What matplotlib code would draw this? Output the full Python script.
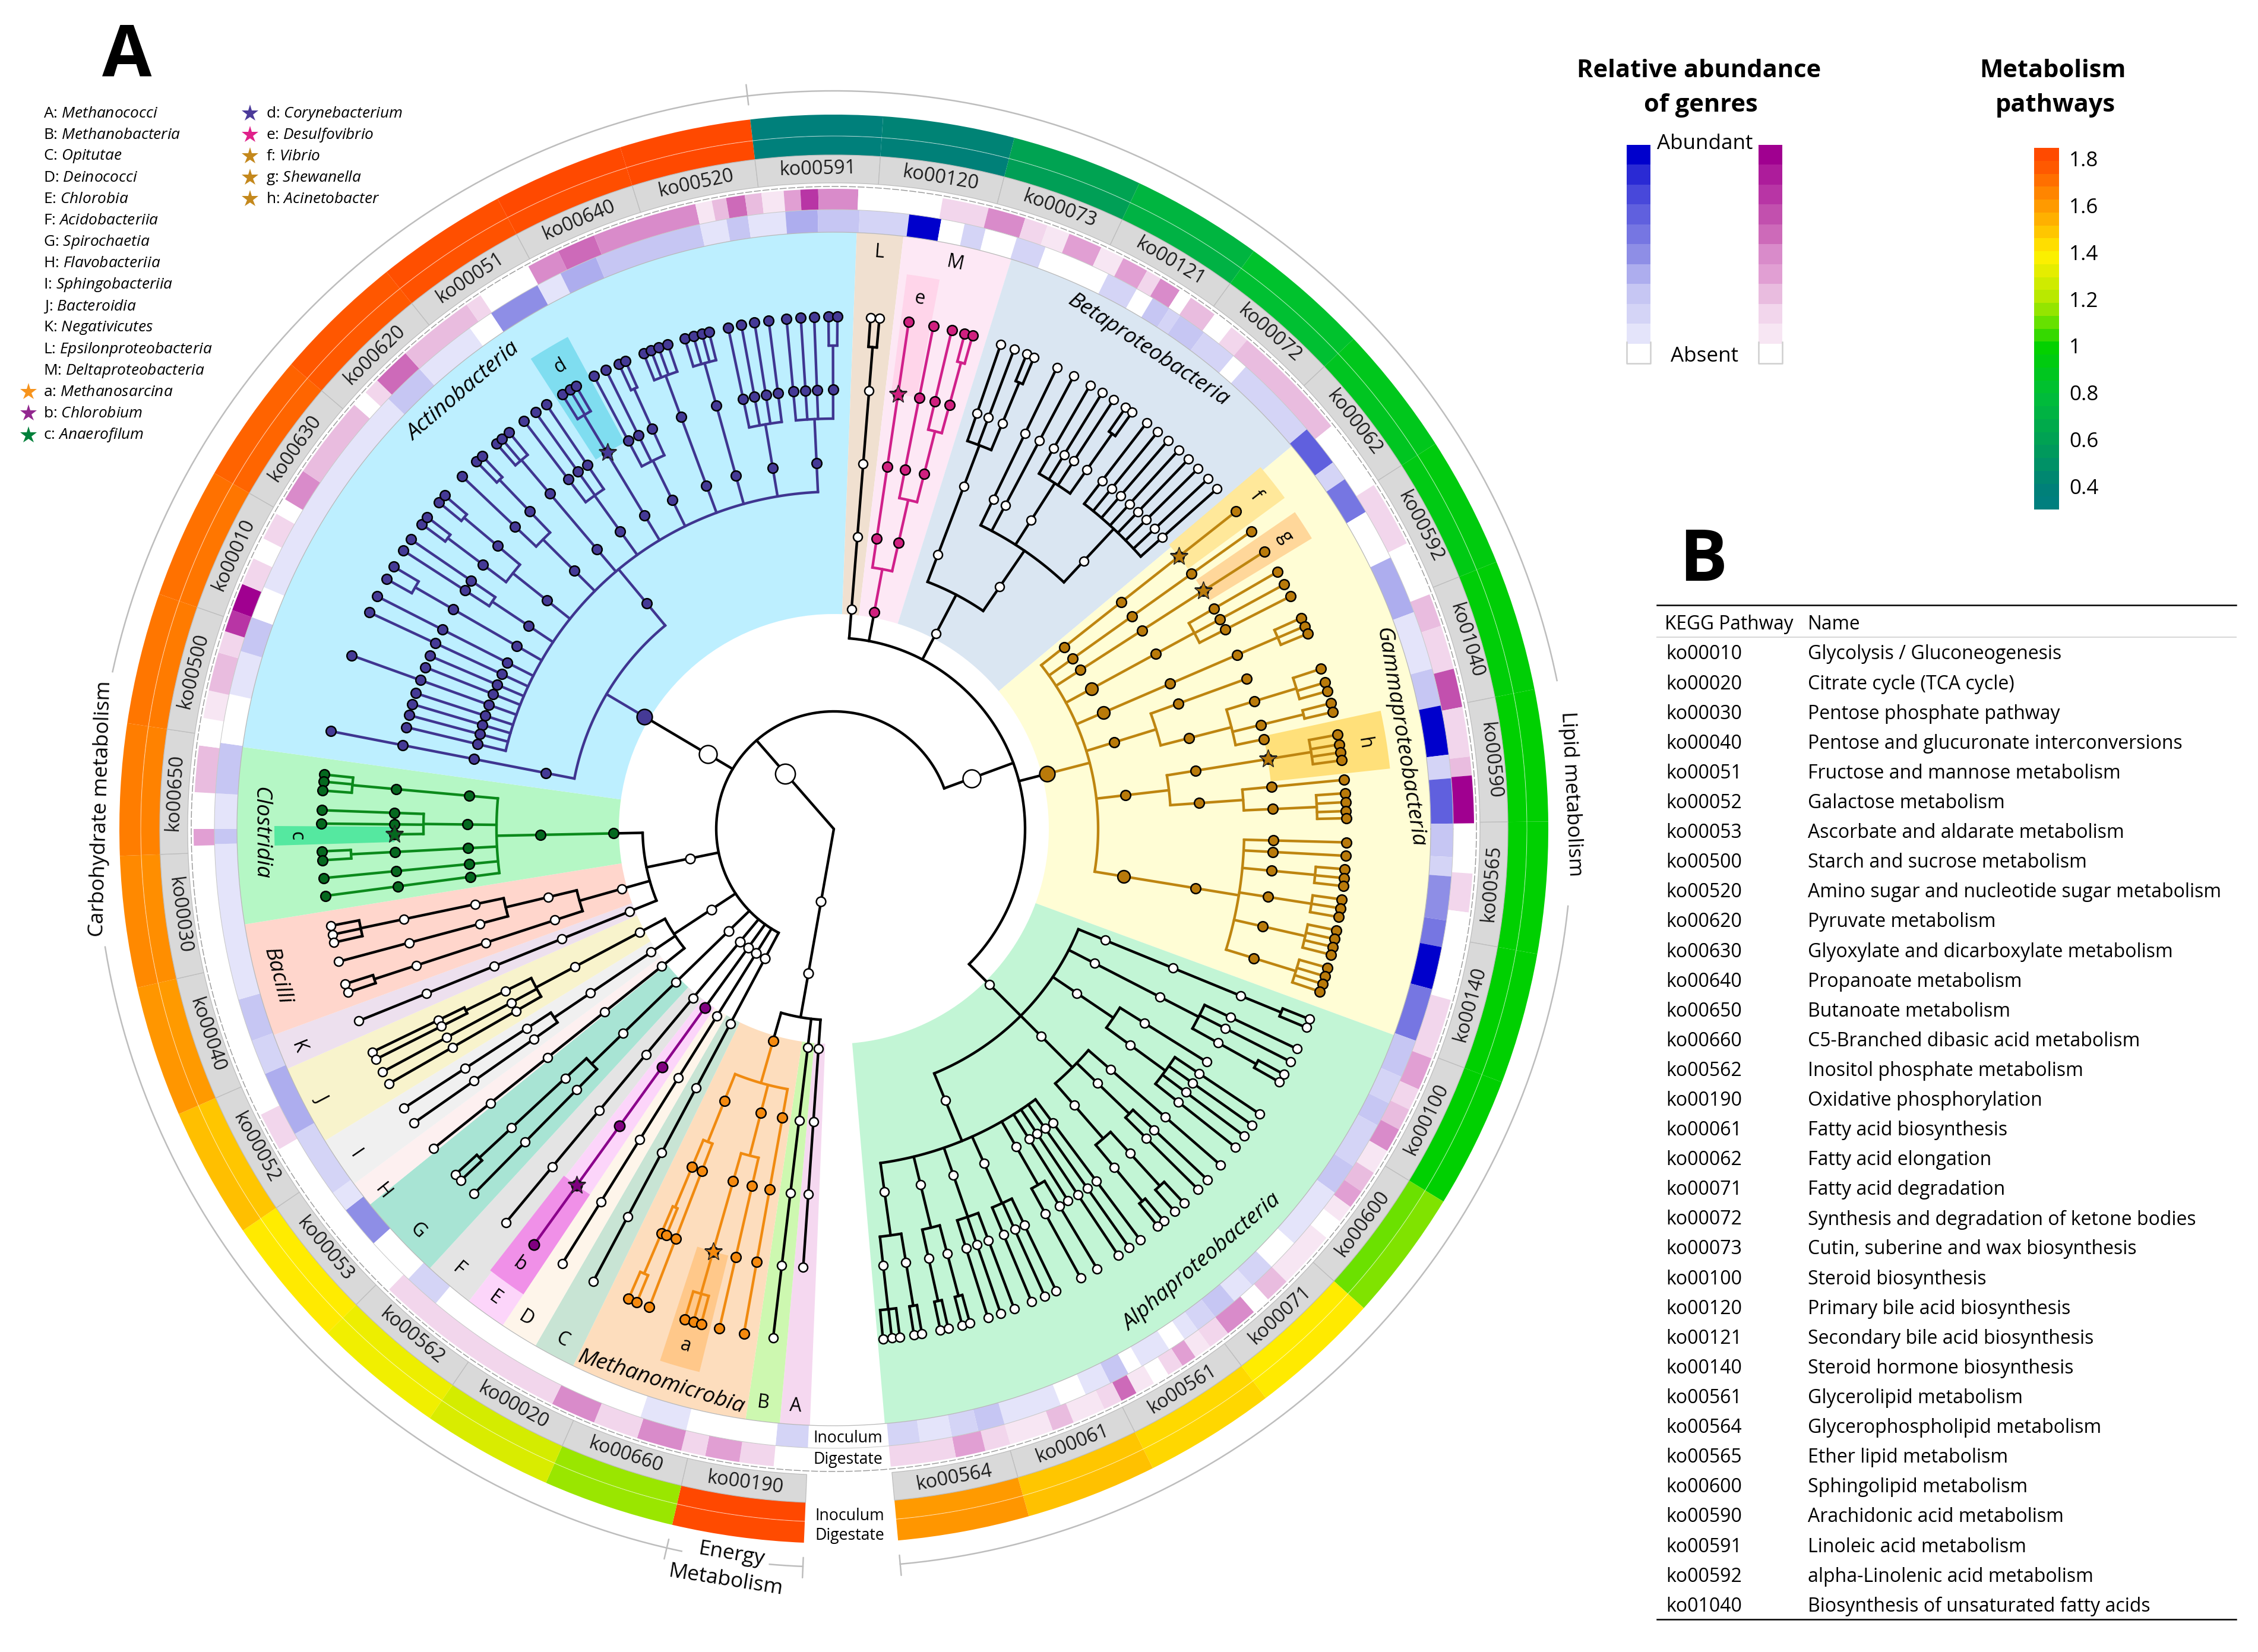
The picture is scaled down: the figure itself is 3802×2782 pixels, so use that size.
import numpy as np
import matplotlib
matplotlib.use("Agg")
import matplotlib.pyplot as plt
from matplotlib.colors import LinearSegmentedColormap, ListedColormap

plt.rcParams['font.family'] = ['Open Sans', 'DejaVu Sans']
plt.rcParams['mathtext.fontset'] = 'custom'
plt.rcParams['mathtext.rm'] = 'Open Sans'
plt.rcParams['mathtext.it'] = 'Open Sans:italic'
plt.rcParams['mathtext.bf'] = 'Open Sans:bold'

W, H = 3803, 2782
CX, CY = 1404, 1396
HALF = 1300

# ---------------- pathways ----------------
pathways = ["ko00190", "ko00660", "ko00020", "ko00562", "ko00053", "ko00052", "ko00040", "ko00030",
            "ko00650", "ko00500", "ko00010", "ko00630", "ko00620", "ko00051", "ko00640", "ko00520",
            "ko00591", "ko00120", "ko00073", "ko00121", "ko00072", "ko00062", "ko00592", "ko01040",
            "ko00590", "ko00565", "ko00140", "ko00100", "ko00600", "ko00071", "ko00561", "ko00061",
            "ko00564"]
path_inoculum = [1.84, 1.17, 1.29, 1.35, 1.4, 1.5, 1.61, 1.64, 1.67, 1.69, 1.7, 1.74, 1.77, 1.79, 1.81, 1.83,
                 0.37, 0.4, 0.6, 0.72, 0.82, 0.88, 0.93, 0.97, 1.0, 1.0, 1.0, 1.0, 1.12, 1.4, 1.45, 1.5, 1.61]
path_digestate = [1.82, 1.17, 1.3, 1.36, 1.41, 1.52, 1.62, 1.65, 1.68, 1.7, 1.71, 1.75, 1.78, 1.8, 1.83, 1.83,
                  0.37, 0.42, 0.62, 0.74, 0.84, 0.9, 0.95, 0.98, 1.0, 1.0, 1.0, 1.0, 1.14, 1.41, 1.46, 1.51, 1.62]
PATH_START = 267.6
PATH_STEP = 10.68

path_cmap = LinearSegmentedColormap.from_list("path", [
    (0.0, '#007F80'), (0.058, '#008078'), (0.187, '#00A055'), (0.316, '#00BE38'), (0.445, '#00D000'),
    (0.51, '#5CE000'), (0.574, '#B0E800'), (0.70, '#FFF000'), (0.83, '#FFA000'), (0.96, '#FF5000'), (1.0, '#FF4500')])
PATH_MIN, PATH_MAX = 0.31, 1.86

# ---------------- genus heat rings (edges run clockwise, levels 0-10) ----------------
inoc_edges = [267.6, 264.6, 256.2, 251.8, 230, 226.6, 222, 218, 216, 209.5, 203.3, 200, 196, 181.4, 180, 176.7,
              172, 167.4, 163.3, 160, 157, 136, 132, 126, 123.6, 118.6, 116.2, 112.6, 102.5, 100, 98, 94.5, 91.5,
              87.6, 83, 80, 77.8, 75.8, 72.8, 70, 63.7, 60.7, 59, 57.2, 56, 53.3, 49.8, 48.3, 40.2, 36.3, 34.4,
              30.8, 26, 20.5, 15, 11.5, 6.9, 4.7, 0.5, -2.6, -4.4, -8.5, -11, -15, -20, -23.6, -26.3, -28.6, -33,
              -36, -42, -45, -47.5, -49.7, -52, -54, -55.5, -57.2, -60.2, -61.6, -63.5, -66, -68.5, -74, -76.5,
              -79, -82, -84.9]
inoc_levels = [2, 0, 1, 0, 2, 0, 5, 1, 2, 4, 2, 3, 1, 3, 1, 3,
               0, 1, 3, 0, 1, 3, 1, 0, 5, 1, 4, 3, 1, 3, 1, 4, 3,
               2, 10, 0, 2, 0, 2, 0, 2, 0, 3, 2, 3, 2, 0, 2, 7, 2, 6,
               0, 4, 1, 3, 10, 2, 7, 3, 2, 5, 6, 10, 6, 3, 2, 3, 2, 3,
               1, 0, 2, 1, 3, 2, 1, 0, 1, 0, 3, 1, 0, 1, 3, 2,
               1, 2]
dige_edges = [267.6, 264.6, 261.5, 258.4, 256.2, 252.1, 248, 243.9, 226, 210, 206.5, 181.5, 180, 176.7, 172.5, 170,
              167.5, 164, 162, 160, 157.5, 155, 153, 150.5, 149, 146, 138.5, 137, 135.5, 132, 125, 123.5, 118.5,
              115.5, 112, 102.5, 101, 99.7, 98, 96.5, 94.5, 93, 91.4, 87.8, 80.2, 76, 72.6, 70.5, 68.4, 65.3, 63.1,
              60.7, 59.3, 57.3, 56.1, 53.5, 51.6, 49.8, 39, 32.5, 26.5, 21.5, 18.5, 14.5, 11, 6.5, 4.8, 0.5, -4,
              -7.5, -15.5, -21, -24, -26, -28, -30.2, -32.5, -34.5, -36.2, -37.8, -39.7, -45, -47.3, -49, -52, -54,
              -55.6, -57, -58.5, -60, -61.8, -63.3, -65, -68, -70, -74, -76.3, -79, -84.9]
dige_levels = [0, 2, 4, 2, 5, 2, 5, 2, 0, 2, 0, 4, 0, 3, 0, 1,
               3, 2, 8, 10, 2, 0, 2, 0, 5, 3, 0, 2, 6, 3, 2, 0,
               5, 6, 5, 1, 3, 6, 3, 1, 4, 8, 5, 0, 2, 5, 2, 1, 4, 1,
               4, 2, 5, 0, 3, 0, 2, 3, 0, 2, 0, 3, 2, 7, 2, 3, 10, 0,
               2, 0, 2, 4, 2, 3, 5, 1, 3, 4, 1, 0, 1, 3, 0, 5, 2,
               1, 4, 2, 0, 1, 6, 2, 1, 3, 1, 2, 4, 2]
blue_colors = ['#FFFFFF', '#E4E4FA', '#D4D4F6', '#C6C6F3', '#ADADEE', '#8E8EE6', '#7676E2', '#6060DE', '#4848DA', '#2A2AD4', '#0000CC']
pink_colors = ['#FFFFFF', '#F7E6F3', '#F2D6EC', '#E9BCDF', '#E19FD3', '#D98BCA', '#CD6AB9', '#C250AE', '#B835A5', '#AD1C9B', '#A00090']

# ---------------- clade sectors ----------------
sector_edges = [267.7, 264.8, 261.5, 244.1, 240, 236.3, 232.3, 227.4, 219, 216.5, 211.5, 203.7, 200.2, 189.2, 172.1,
                87.8, 83.3, 72.7, 39.9, -20.2, -85.1]
sector_colors = ['#F5D8F0', '#CDF8B0', '#FDDDBD', '#C8E4D4', '#FEF5EA', '#FCD5FA', '#E4E4E4', '#A8E4D4', '#FDF0F0',
                 '#F0F0F0', '#F8F3CC', '#EDE0EE', '#FFD6CC', '#B5F7C5', '#BDEFFF', '#F0E0D0', '#FDE8F5', '#DAE6F2',
                 '#FFFDD5', '#C2F5D5']
highlight_theta = [180.7, 120.6, 80.8, 38.3, 32.9, 9.2, 254.0, 234.2]
highlight_half = [1.0, 2.2, 1.7, 2.0, 1.6, 3.0, 2.1, 2.1]
highlight_colors = ['#55E8A0', '#7FDDF0', '#FFD5EA', '#FFE89A', '#FFD79A', '#FFE07A', '#FFC88A', '#F090E8']
highlight_names = ['c', 'd', 'e', 'f', 'g', 'h', 'a', 'b']

# ---------------- phylogeny: nested lists of tip angles ----------------
class Short(float):
    pass

actino = [169, [[95.3, 93.7, 92.2, [90.6, 89.6]], [101.9, 100.4, 98.9, 97.3], [[106.9, 105.9, 104.9, 104.1]],
                [[111.8, 110.9, 110, 108.9]], [117.9, 116.4, [114.8, 114]], [[122, 121, 120.2]],
                [124.1, 125.6, 127.2], [[131.2, 130.4, 129.3]], [136.5, [134.2, 133.3]],
                [[140.4, 139.4], [143.5, 142.5]], [147.1, 145.6], [[150.8, 149.2]], 153, 155,
                Short(156.8), Short(158.4), 160.2, Short(162), Short(163.5), Short(165), Short(166.6)]]
clostridia = [[[[173.9, 174.7, 175.7]], [177.9, 179.4, Short(180.7)], [[182.5, 183.5]], 185.5, 187.5]]
bacilli = [[[[190.9, 191.9, 192.8]], 195], [[[197.6, 198.6]]]]
gamma = [38.3, 35.5, 32.8, [[30.1, 28.5, 27]], [[[24.3, 23.3, 22.4]]],
         [Short(20), [[18.2, 16.6, 15.6], [14.2, 13.2], Short(11.8)]],
         [[[10.6, 9.5, 8.6, 7.7]], [5.5, [4, 3, 2, 1.2]]],
         [[-1.5, -3, [-4.5, -5.5, -6.4], [-7.9, -8.9, -9.9], [-11.4, -12.4, -13.3, -14.2], [-15.7, -16.7, -17.6, -18.5]]]]
beta = [[[71, 69.4, [67.9, 67]]],
        [64.2, 62.1, [60, 58.4, 56.9, [55.3, 54.4]], [52.4, 50.8, 49.3, 47.7, 46.2, 44.7, 43.1, 41.6]]]
alpha = [[[[-21.8, -22.8]]], [[-25.4, -27, [-28.6, -29.6]]], [Short(-32), [-33.8, -35.3, -36.8, -38.4]],
         [-41, [-43.2, -44.7], [[-46.9, -48.3], [-49.9, -50.8]]],
         [[[-84.5, -83.5, -82.6], [-81, -80.1]], [[-78, -77.1], [-75.5, -74.6]], [-72.5, -71, -69.4],
          [-67.3, -65.7, -64.3], [-61.2, -59.1], Short(-57.8), -56.3, -54.8, -53.3]]
delta = [81.6, [78.8, [76.7, [75.2, 74.3]]]]
epsilon = [[[[85.9, 84.9]]]]
methano = [[[[246.4, 247.4], Short(247.6)], 248.9], [[[253.1, 254.1, 255]], 257.1], 259.9]
phylum_bacteria = [[alpha, gamma, beta, delta, epsilon], [actino], [clostridia, bacilli, 202],
                   [[[[205.8, 206.7], 208.3, 209.8]], [[213, 215]], 218.6],
                   [[[[[222.4, 223.3]], 225.4]]], [230.2], [234.2], [238], [242]]
phylum_archaea = [[methano, 263.2, Short(266)]]

clade_line = {id(actino): '#3F3590', id(clostridia): '#0B8A1C', id(gamma): '#BE8510', id(delta): '#D0208A',
              id(methano): '#F08A10'}
clade_fill = {id(actino): '#453A96', id(clostridia): '#05691F', id(gamma): '#B97A0A', id(delta): '#D0207F',
              id(methano): '#F58A0F'}
star_theta = [180.7, 121, 81.6, 38.3, 32.8, 9.15, 254.05, 234.2]
star_colors = ['#05691F', '#453A96', '#D0207F', '#B97A0A', '#B97A0A', '#B97A0A', '#F58A0F', '#800080']

# ---------------- text data ----------------
legend_classes = ["A: $\\mathit{Methanococci}$", "B: $\\mathit{Methanobacteria}$", "C: $\\mathit{Opitutae}$",
                  "D: $\\mathit{Deinococci}$", "E: $\\mathit{Chlorobia}$", "F: $\\mathit{Acidobacteriia}$",
                  "G: $\\mathit{Spirochaetia}$", "H: $\\mathit{Flavobacteriia}$", "I: $\\mathit{Sphingobacteriia}$",
                  "J: $\\mathit{Bacteroidia}$", "K: $\\mathit{Negativicutes}$", "L: $\\mathit{Epsilonproteobacteria}$",
                  "M: $\\mathit{Deltaproteobacteria}$", "a: $\\mathit{Methanosarcina}$", "b: $\\mathit{Chlorobium}$",
                  "c: $\\mathit{Anaerofilum}$"]
legend_genera = ["d: $\\mathit{Corynebacterium}$", "e: $\\mathit{Desulfovibrio}$", "f: $\\mathit{Vibrio}$",
                 "g: $\\mathit{Shewanella}$", "h: $\\mathit{Acinetobacter}$"]
star_a_c = ['#F7941D', '#92278F', '#00803A']
star_d_h = ['#4B3A9A', '#E0218A', '#C4881C', '#C4881C', '#C4881C']
table_ko = ["ko00010", "ko00020", "ko00030", "ko00040", "ko00051", "ko00052", "ko00053", "ko00500", "ko00520",
            "ko00620", "ko00630", "ko00640", "ko00650", "ko00660", "ko00562", "ko00190", "ko00061", "ko00062",
            "ko00071", "ko00072", "ko00073", "ko00100", "ko00120", "ko00121", "ko00140", "ko00561", "ko00564",
            "ko00565", "ko00600", "ko00590", "ko00591", "ko00592", "ko01040"]
table_names = ["Glycolysis / Gluconeogenesis", "Citrate cycle (TCA cycle)", "Pentose phosphate pathway",
               "Pentose and glucuronate interconversions", "Fructose and mannose metabolism", "Galactose metabolism",
               "Ascorbate and aldarate metabolism", "Starch and sucrose metabolism",
               "Amino sugar and nucleotide sugar metabolism", "Pyruvate metabolism",
               "Glyoxylate and dicarboxylate metabolism", "Propanoate metabolism", "Butanoate metabolism",
               "C5-Branched dibasic acid metabolism", "Inositol phosphate metabolism", "Oxidative phosphorylation",
               "Fatty acid biosynthesis", "Fatty acid elongation", "Fatty acid degradation",
               "Synthesis and degradation of ketone bodies", "Cutin, suberine and wax biosynthesis",
               "Steroid biosynthesis", "Primary bile acid biosynthesis", "Secondary bile acid biosynthesis",
               "Steroid hormone biosynthesis", "Glycerolipid metabolism", "Glycerophospholipid metabolism",
               "Ether lipid metabolism", "Sphingolipid metabolism", "Arachidonic acid metabolism",
               "Linoleic acid metabolism", "alpha-Linolenic acid metabolism", "Biosynthesis of unsaturated fatty acids"]
clade_names = ['Actinobacteria', 'Betaproteobacteria', 'Gammaproteobacteria', 'Alphaproteobacteria', 'Clostridia',
               'Bacilli', 'Methanomicrobia']
clade_name_theta = [130.3, 56.7, 9.2, -49.7, 180.4, 194.8, 252.7]
letters = ['A', 'B', 'C', 'D', 'E', 'F', 'G', 'H', 'I', 'J', 'K', 'L', 'M']
letter_theta = [266.2, 263, 242, 237.9, 234.2, 229.6, 224, 218.8, 214.2, 207.7, 202.2, 85.5, 77.9]
colorbar_ticks = [1.8, 1.6, 1.4, 1.2, 1, 0.8, 0.6, 0.4]

LW = 1.05


def tangent_rotation(theta):
    t = theta % 360
    return t - 90 if t < 180 else t + 90


fig = plt.figure(figsize=(W / 300, H / 300), dpi=300)
ax = fig.add_axes([(CX - HALF) / W, 1 - (CY + HALF) / H, 2 * HALF / W, 2 * HALF / H], projection='polar')


def ring(start_edges, levels, palette, r0, r1):
    edges = np.array(start_edges, dtype=float)
    mids = (edges[:-1] + edges[1:]) / 2
    ax.bar(np.radians(mids), r1 - r0, width=np.radians(edges[:-1] - edges[1:]), bottom=r0,
           color=[palette[v] for v in levels], linewidth=0, zorder=2)


def arc(t0, t1, r, **kw):
    t = np.radians(np.linspace(t0, t1, max(3, int(abs(t1 - t0) * 2))))
    ax.plot(t, np.full_like(t, r), **kw)


# outer pathway rings
n = len(pathways)
centers = PATH_START - PATH_STEP * (np.arange(n) + 0.5)
w = np.radians(PATH_STEP)
norm = lambda v: (np.array(v) - PATH_MIN) / (PATH_MAX - PATH_MIN)
ax.bar(np.radians(centers), 32, width=w, bottom=1135, color=path_cmap(norm(path_inoculum)), linewidth=0, zorder=2)
ax.bar(np.radians(centers), 36, width=w, bottom=1167, color=path_cmap(norm(path_digestate)), linewidth=0, zorder=2)
ax.bar(np.radians(centers), 47, width=w, bottom=1088, color='#D9D9D9', edgecolor='#BDBDBD', linewidth=0.3, zorder=2)
for c, name in zip(centers, pathways):
    ax.text(np.radians(c), 1111, name, rotation=tangent_rotation(c), rotation_mode='anchor',
            ha='center', va='center', fontsize=7.8, color='#1a1a1a', zorder=5)
arc(PATH_START, PATH_START - PATH_STEP * n, 1167, color='white', lw=0.25, alpha=0.6, zorder=3)

# heat rings
ring(dige_edges, dige_levels, pink_colors, 1043, 1078)
ring(inoc_edges, inoc_levels, blue_colors, 1005, 1043)
arc(0, 360, 1005, color='#B8B8B8', lw=0.3, zorder=3)
arc(0, 360, 1043, color='#C8C8C8', lw=0.25, zorder=3)
arc(0, 360, 1082, color='#9A9A9A', lw=0.35, ls=(0, (8, 2)), zorder=3)

# clade sectors
edges = np.array(sector_edges, dtype=float)
ax.bar(np.radians((edges[:-1] + edges[1:]) / 2), 1005 - 362, width=np.radians(edges[:-1] - edges[1:]), bottom=362,
       color=sector_colors, linewidth=0, zorder=1)
ax.bar(np.radians(highlight_theta), 202, width=np.radians(2 * np.array(highlight_half)), bottom=740,
       color=highlight_colors, linewidth=0, zorder=1.5)

# tree
LEVELS = [371, 494, 617, 740, 863]


def is_tip(node):
    return isinstance(node, (int, float))


def node_theta(node):
    if is_tip(node):
        return float(node)
    kids = [node_theta(k) for k in node]
    return (min(kids) + max(kids)) / 2


def mark(theta, r, fill, size, edge='black', mew=0.6):
    ax.plot([np.radians(theta)], [r], 'o', ms=size, mfc=fill, mec=edge, mew=mew, zorder=8)


def line(theta, r0, r1, color, lw):
    ax.plot(np.radians([theta, theta]), [r0, r1], color=color, lw=lw, solid_capstyle='round', zorder=6)


def draw(node, k, color, fill, big=False):
    t = node_theta(node)
    size = 3.6
    if fill != 'white':
        size = 4.0
        if big and k == 0:
            size = 6.2
        elif big and k == 1 and not is_tip(node) and len(node) == 1:
            size = 5.0
    if is_tip(node):
        end = 3 if isinstance(node, Short) else 4
        line(t, LEVELS[k], LEVELS[end], color, LW)
        for j in range(k, end + 1):
            s = size if j == k else (4.0 if fill != 'white' else 3.6)
            mark(t, LEVELS[j], fill, s)
        return
    mark(t, LEVELS[k], fill, size)
    if len(node) == 1:
        line(t, LEVELS[k], LEVELS[k + 1], color, LW)
    else:
        split = LEVELS[k + 1] - 49
        kids = [node_theta(c) for c in node]
        line(t, LEVELS[k], split, color, LW)
        arc(min(kids), max(kids), split, color=color, lw=LW, zorder=6)
        for kt in kids:
            line(kt, split, LEVELS[k + 1], color, LW)
    for c in node:
        draw(c, k + 1, color, fill, big)


def draw_class(node):
    line_c = clade_line.get(id(node), 'black')
    fill = clade_fill.get(id(node), 'white')
    draw(node, 0, line_c, fill, big=node is actino or node is gamma)


# dark purple for the Chlorobium branch, everything else through the colour tables
phylum_thetas = []
for classes in phylum_bacteria + phylum_archaea:
    ths = [node_theta(c) for c in classes]
    t = (min(ths) + max(ths)) / 2
    phylum_thetas.append(t)
    if len(classes) == 1:
        line(t, 247, 371, 'black', LW)
    else:
        line(t, 247, 322, 'black', LW)
        arc(min(ths), max(ths), 322, color='black', lw=LW, zorder=6)
        for th in ths:
            line(th, 322, 371, 'black', LW)
    for c in classes:
        if is_tip(c) and float(c) == 234.2:
            line(234.2, 371, 863, '#8B008B', LW)
            for r in LEVELS:
                mark(234.2, r, '#800080', 4.2)
        elif is_tip(c):
            draw(c, 0, 'black', 'white')
        else:
            draw_class(c)
    is_large = classes is phylum_bacteria[0] or classes is phylum_bacteria[1]
    mark(t, 247, 'white', 7.2 if is_large else 3.8)

bact_t = phylum_thetas[:len(phylum_bacteria)]
bact_mid = (min(bact_t) + max(bact_t)) / 2
arch_mid = phylum_thetas[-1]
arc(min(bact_t), max(bact_t), 198, color='black', lw=LW, zorder=6)
for th in bact_t:
    line(th, 198, 247, 'black', LW)
line(bact_mid, 0, 198, 'black', LW)
line(arch_mid, 0, 247, 'black', LW)
mark(bact_mid, 124, 'white', 8.0)
mark(arch_mid, 124, 'white', 3.8)

for th, col in zip(star_theta, star_colors):
    ax.plot([np.radians(th)], [740], marker='*', ms=7.5, mfc=col, mec='#222222', mew=0.35, zorder=9)

# names on the sectors
for name, th in zip(clade_names, clade_name_theta):
    r = {'Bacilli': 970, 'Methanomicrobia': 976, 'Alphaproteobacteria': 958}.get(name, 965)
    ax.text(np.radians(th), r, name, rotation=tangent_rotation(th), rotation_mode='anchor', ha='center', va='center',
            fontsize=8.9, style='italic', zorder=7)
for name, th in zip(letters, letter_theta):
    ax.text(np.radians(th), 974, name, rotation=tangent_rotation(th), rotation_mode='anchor', ha='center', va='center',
            fontsize=7.6, zorder=7)
for name, th in zip(highlight_names, highlight_theta):
    ax.text(np.radians(th), 905, name, rotation=tangent_rotation(th), rotation_mode='anchor', ha='center', va='center',
            fontsize=7.6, zorder=7)

# outer group arcs
group_col = '#BDBDBD'
lip0 = PATH_START - 16 * PATH_STEP
lip1 = PATH_START - 33 * PATH_STEP
carb = PATH_START - PATH_STEP
arc(lip0, 11.6, 1243, color=group_col, lw=0.6)
arc(-6, lip1, 1243, color=group_col, lw=0.6)
arc(carb, 189.2, 1243, color=group_col, lw=0.6)
arc(167.7, lip0, 1243, color=group_col, lw=0.6)
arc(carb, 258.1, 1243, color=group_col, lw=0.6)
arc(265, PATH_START, 1243, color=group_col, lw=0.6)
for th in [lip0, lip1, carb, PATH_START]:
    line(th, 1228, 1262, group_col, 0.6)
ax.text(np.radians(2.7), 1243, "Lipid metabolism", rotation=-87.3, rotation_mode='anchor', ha='center', va='center', fontsize=8.3)
ax.text(np.radians(178.4), 1234, "Carbohydrate metabolism", rotation=88.4, rotation_mode='anchor', ha='center', va='center', fontsize=8.5)

# labels in the bottom gap
for r, s in zip([1026, 1062, 1157, 1190], ["Inoculum", "Digestate", "Inoculum", "Digestate"]):
    ax.text(np.radians(271.3), r, s, ha='center', va='center', fontsize=6.4, zorder=7)

ax.set_ylim(0, HALF)
ax.axis('off')

# ---------------- flat overlay in picture pixels ----------------
ov = fig.add_axes([0, 0, 1, 1], zorder=5)
ov.set_xlim(0, W)
ov.set_ylim(H, 0)
ov.axis('off')

ov.text(214, 96, "A", fontsize=29, fontweight='bold', ha='center', va='center')
ov.text(2868, 946, "B", fontsize=29, fontweight='bold', ha='center', va='center')

for i, s in enumerate(legend_classes):
    ov.text(73, 191 + 36.1 * i, s, fontsize=6.3, ha='left', va='center')
for i, s in enumerate(legend_genera):
    ov.text(448, 191 + 36.1 * i, s, fontsize=6.3, ha='left', va='center')
    ov.plot(421, 191 + 36.1 * i, marker='*', ms=7.2, color=star_d_h[i], mew=0)
for i, col in enumerate(star_a_c):
    ov.plot(48, 191 + 36.1 * (13 + i), marker='*', ms=7.2, color=col, mew=0)

# colour legends
ov.text(2861, 120, "Relative abundance", fontsize=10, fontweight='bold', ha='center', va='center')
ov.text(2864, 177, "of genres", fontsize=10, fontweight='bold', ha='center', va='center')
ov.text(3456, 120, "Metabolism", fontsize=10, fontweight='bold', ha='center', va='center')
ov.text(3461, 177, "pathways", fontsize=10, fontweight='bold', ha='center', va='center')
y_edges = np.linspace(244, 612, 12)
for x0, x1, cols in [(2739, 2779, blue_colors), (2961, 3001, pink_colors)]:
    ov.pcolormesh([x0, x1], y_edges, np.arange(10, -1, -1).reshape(-1, 1), cmap=ListedColormap(cols), vmin=0, vmax=10,
                  shading='flat')
    ov.plot([x0, x0, x1, x1], [576, 612, 612, 576], color='#CFCFCF', lw=0.6)
ov.text(2871, 242, "Abundant", fontsize=8.4, ha='center', va='center')
ov.text(2870, 600, "Absent", fontsize=8.4, ha='center', va='center')
bar_y = np.linspace(249, 858, 29)
bar_mid = 1.8 - (0.5 * (bar_y[:-1] + bar_y[1:]) - 271) / 552 * 1.4
ov.pcolormesh([3425, 3467], bar_y, bar_mid.reshape(-1, 1), cmap=path_cmap, vmin=PATH_MIN, vmax=PATH_MAX, shading='flat')
for v in colorbar_ticks:
    ov.text(3484, 271 + (1.8 - v) / 1.4 * 552, f"{v:g}", fontsize=8.4, ha='left', va='center')

# table
ov.plot([2790, 3765], [1019, 1019], color='black', lw=0.6)
ov.plot([2790, 3765], [1073, 1073], color='#D8D8D8', lw=0.5)
ov.plot([2790, 3765], [2727, 2727], color='black', lw=0.6)
ov.text(2803, 1051, "KEGG Pathway", fontsize=7.6, ha='left', va='center')
ov.text(3044, 1051, "Name", fontsize=7.6, ha='left', va='center')
for i, (k, s) in enumerate(zip(table_ko, table_names)):
    y = 1102 + 50.1 * i
    ov.text(2805, y, k, fontsize=7.7, ha='left', va='center')
    ov.text(3044, y, s, fontsize=7.7, ha='left', va='center')
ov.text(1232, 2618, "Energy", fontsize=8.5, rotation=-9.5, ha='center', va='center')
ov.text(1222, 2661, "Metabolism", fontsize=8.5, rotation=-9, ha='center', va='center')
ov.set_xlim(0, W)
ov.set_ylim(H, 0)

fig.savefig("out.png", dpi=300, facecolor='white')
